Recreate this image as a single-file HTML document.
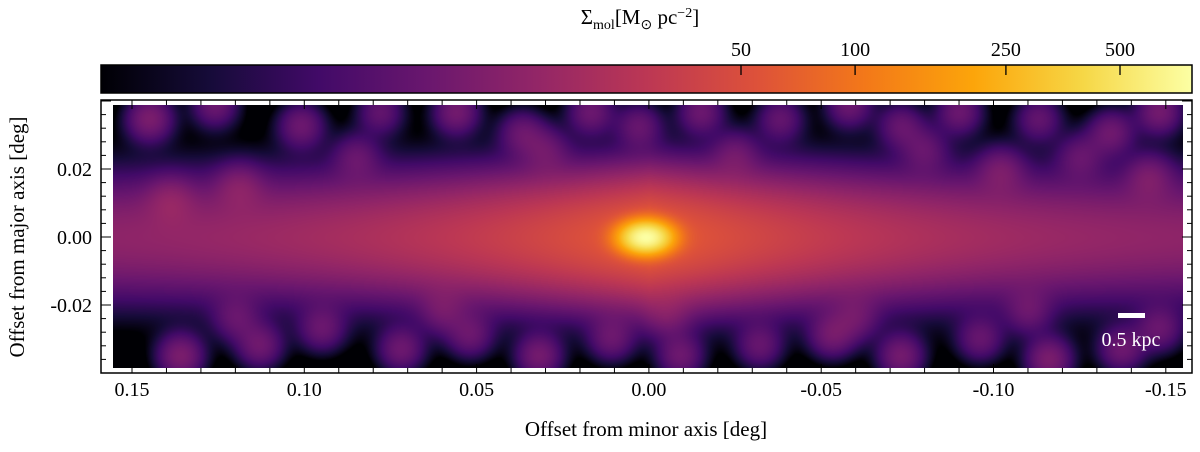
<!DOCTYPE html>
<html><head><meta charset="utf-8"><style>
body{margin:0;background:#fff;width:1200px;height:447px;overflow:hidden;font-family:"Liberation Serif",serif;}
svg text{font-family:"Liberation Serif",serif;fill:#000;}
</style></head><body>
<svg id="fig" width="1200" height="447" viewBox="0 0 1200 447" xmlns="http://www.w3.org/2000/svg">
<defs><linearGradient id="inf" x1="0" x2="1" y1="0" y2="0">
<stop offset="0" stop-color="#000004"/><stop offset="0.1" stop-color="#160b39"/><stop offset="0.2" stop-color="#420a68"/><stop offset="0.3" stop-color="#6a176e"/><stop offset="0.4" stop-color="#932667"/><stop offset="0.5" stop-color="#bc3754"/><stop offset="0.6" stop-color="#dd513a"/><stop offset="0.7" stop-color="#f37819"/><stop offset="0.8" stop-color="#fca50a"/><stop offset="0.9" stop-color="#f6d746"/><stop offset="1" stop-color="#fcffa4"/></linearGradient></defs>
<text x="640" y="24" text-anchor="middle" font-size="21">Σ<tspan font-size="14" dy="5">mol</tspan><tspan dy="-5">[M</tspan><tspan font-size="14" dy="5">⊙</tspan><tspan dy="-5"> pc</tspan><tspan font-size="14" dy="-7">−2</tspan><tspan dy="7">]</tspan></text>
<rect x="101" y="65" width="1091" height="28" fill="url(#inf)" stroke="#000" stroke-width="1.5"/>
<g id="cbticks"></g>
<rect x="101" y="100" width="1091" height="273" fill="#fff"/>
<foreignObject x="113" y="105" width="1070" height="263"><canvas xmlns="http://www.w3.org/1999/xhtml" id="cv" width="1070" height="263" style="display:block"></canvas></foreignObject>
<rect x="101" y="100" width="1091" height="273" fill="none" stroke="#000" stroke-width="1.5"/>
<g id="ticks"></g>
<g id="xlabels"></g>
<g id="ylabels"></g>
<text x="646" y="436" text-anchor="middle" font-size="21">Offset from minor axis [deg]</text>
<text transform="translate(24,237) rotate(-90)" text-anchor="middle" font-size="21">Offset from major axis [deg]</text>
<rect x="1118" y="313" width="27" height="5" fill="#fff"/>
<text x="1131" y="346" text-anchor="middle" font-size="20" style="fill:#fff">0.5 kpc</text>
</svg>
<script>
const cbTicks=[50,100,250,500];
const xTicks=[0.15,0.10,0.05,0.00,-0.05,-0.10,-0.15];
const yTicks=[0.02,0.00,-0.02];
const clumpX=[0.145,0.126,0.101,0.078,0.056,0.037,0.017,0.003,-0.015,-0.038,-0.058,-0.073,-0.090,-0.113,-0.134,-0.148,0.139,0.119,-0.102,-0.145,0.136,0.113,0.095,0.072,0.052,0.032,0.011,-0.009,-0.032,-0.053,-0.073,-0.096,-0.116,-0.137,-0.148,0.085,0.030,-0.025,-0.080,-0.125,0.120,0.060,-0.005,-0.060,-0.110];
const clumpY=[0.035,0.039,0.033,0.037,0.037,0.031,0.037,0.033,0.037,0.035,0.039,0.033,0.037,0.035,0.031,0.037,0.011,0.015,0.020,0.018,-0.035,-0.032,-0.027,-0.033,-0.029,-0.035,-0.030,-0.035,-0.032,-0.029,-0.035,-0.030,-0.036,-0.033,-0.027,0.024,0.026,0.025,0.026,0.024,-0.024,-0.022,-0.023,-0.024,-0.022];
const clumpAmp=[9,7,7,6,8,6,7,6,7,6,7,6,7,6,7,8,6,6,6,6,9,7,6,7,6,8,6,7,6,7,8,6,9,7,6,5,5,5,5,5,5,5,5,5,5];
const coreAmp=700, diskAmp=60, diskFloor=8;
const NS='http://www.w3.org/2000/svg';
const xp=d=>132+(0.15-d)/0.05*172.3;
const yp=d=>237-d/0.02*68;
const cbx=v=>741+Math.log10(v/50)*379;
function mk(tag,attrs,parent){const e=document.createElementNS(NS,tag);for(const k in attrs)e.setAttribute(k,attrs[k]);parent.appendChild(e);return e;}
const cbg=document.getElementById('cbticks');
cbTicks.forEach(v=>{
 const l=mk('line',{x1:cbx(v),x2:cbx(v),y1:65,y2:75,stroke:'#000','stroke-width':1.3},cbg);
 
 
 const t=mk('text',{x:cbx(v),y:56,'text-anchor':'middle','font-size':20},cbg);t.textContent=v;
 
 
});
const tg=document.getElementById('ticks');
for(let i=-16;i<=16;i++){const d=i*0.01;const x=xp(d);if(x<102||x>1191)continue;const L=i%5===0?9:5;
 mk('line',{x1:x,x2:x,y1:373,y2:373-L,stroke:'#000','stroke-width':1},tg);
 mk('line',{x1:x,x2:x,y1:100,y2:100+L,stroke:'#000','stroke-width':1},tg);}
for(let i=-10;i<=10;i++){const d=i*0.004;const y=yp(d);if(y<101||y>372)continue;const L=(i%5===0)?10:5;
 mk('line',{x1:101,x2:101+L,y1:y,y2:y,stroke:'#000','stroke-width':1},tg);
 mk('line',{x1:1192,x2:1192-L,y1:y,y2:y,stroke:'#000','stroke-width':1},tg);}
const xl=document.getElementById('xlabels');
xTicks.forEach(v=>{const t=mk('text',{x:xp(v),y:396,'text-anchor':'middle','font-size':20},xl);t.textContent=v.toFixed(2).replace('-0.00','0.00');
 
 });
const yl=document.getElementById('ylabels');
yTicks.forEach(v=>{const t=mk('text',{x:92,y:yp(v)+7,'text-anchor':'end','font-size':20},yl);t.textContent=v.toFixed(2);
 
 });
const stops=[[0,0,4],[22,11,57],[66,10,104],[106,23,110],[147,38,103],[188,55,84],[221,81,58],[243,120,25],[252,165,10],[246,215,70],[252,255,164]];
function cmap(t){t=Math.max(0,Math.min(1,t))*10;const i=Math.min(9,Math.floor(t)),f=t-i,a=stops[i],b=stops[i+1];return [a[0]+(b[0]-a[0])*f,a[1]+(b[1]-a[1])*f,a[2]+(b[2]-a[2])*f];}
const cv=document.getElementById('cv'),ctx=cv.getContext('2d');
const W=cv.width,H=cv.height,img=ctx.createImageData(W,H);
const lmax=Math.log(766);
const sg=0.0045;
for(let py=0;py<H;py++){const yd=(237-(py+105))/68*0.02;
 const vy=Math.exp(-0.5*(yd/0.0105)**2), vy2=Math.exp(-0.5*(yd/0.016)**2);
 for(let px=0;px<W;px++){const xd=0.15-((px+113)-132)/172.3*0.05;
  let s=(diskAmp*Math.exp(-Math.abs(xd)/0.045)+diskFloor)*vy+3*vy2;
  s+=coreAmp*Math.exp(-0.5*((xd-0.001)/0.0045)**2-0.5*(yd/0.0028)**2);
  for(let k=0;k<clumpX.length;k++){const dx=xd-clumpX[k],dy=yd-clumpY[k];s+=clumpAmp[k]*Math.exp(-(dx*dx+dy*dy)/(2*sg*sg));}
  const t=s<1?0:Math.log(s)/lmax;const c=cmap(t);const o=(py*W+px)*4;
  img.data[o]=c[0];img.data[o+1]=c[1];img.data[o+2]=c[2];img.data[o+3]=255;}}
ctx.putImageData(img,0,0);
</script>
</body></html>
